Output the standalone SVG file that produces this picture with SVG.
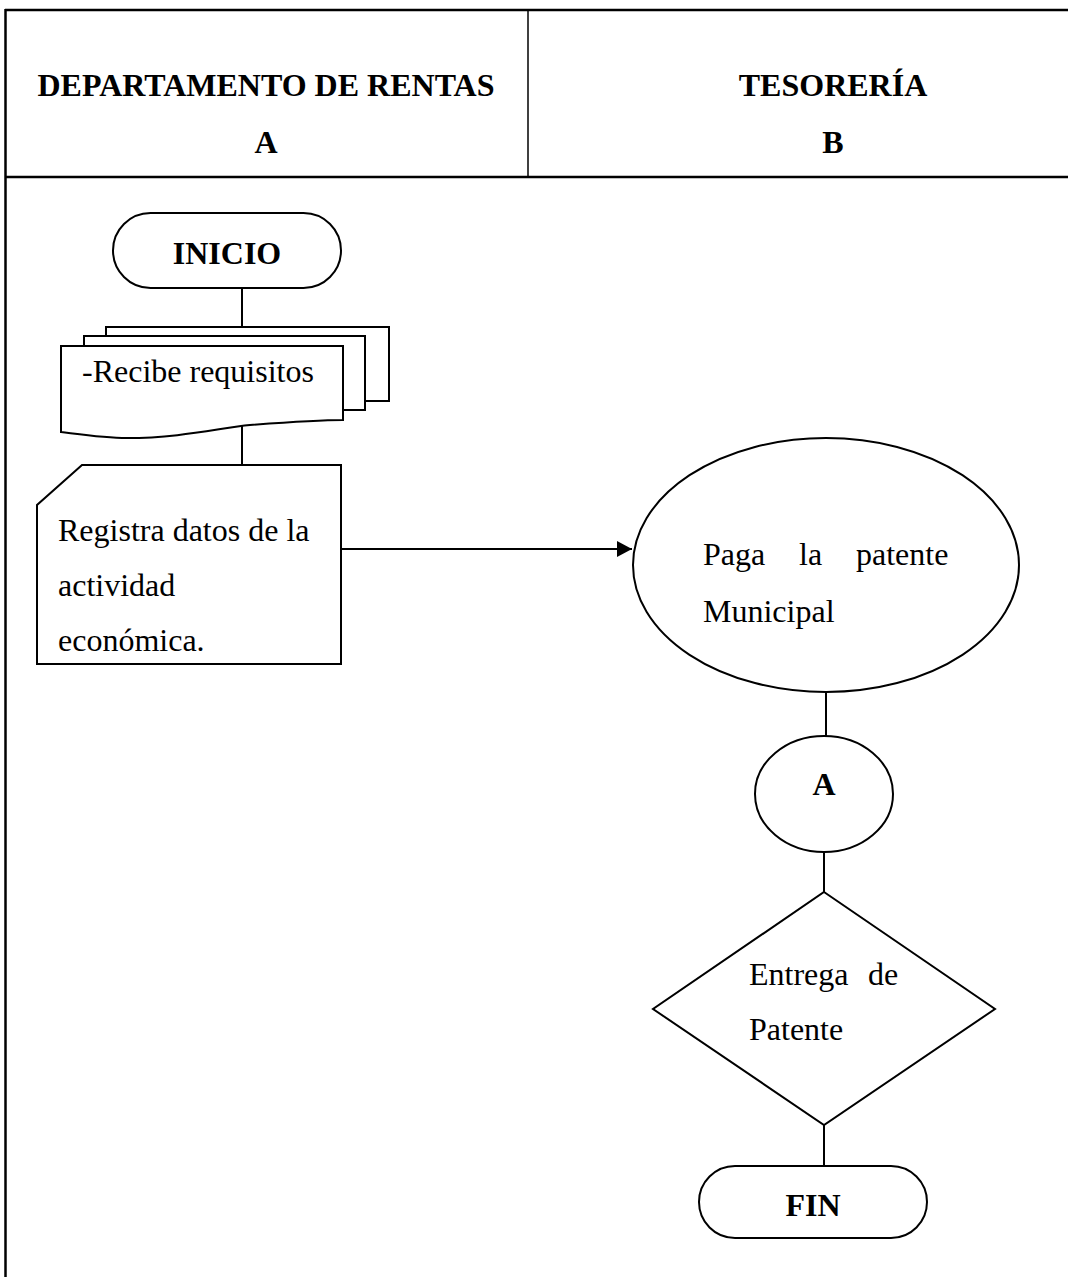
<svg xmlns="http://www.w3.org/2000/svg" width="1068" height="1277" viewBox="0 0 1068 1277">
  <defs>
    <style>
      .frame { fill: none; stroke: #000; stroke-width: 2.5; }
      .shape { fill: #fff; stroke: #000; stroke-width: 2; }
      .link { fill: none; stroke: #000; stroke-width: 2; }
      .head { font-family: "Liberation Serif", "Times New Roman", serif; font-weight: bold; font-size: 32px; fill: #000; }
      .body { font-family: "Liberation Serif", "Times New Roman", serif; font-size: 32px; fill: #000; }
    </style>
    <marker id="arrow" markerWidth="15" markerHeight="16" refX="15" refY="8" orient="auto" markerUnits="userSpaceOnUse">
      <path d="M0,0 L15,8 L0,16 z" fill="#000"/>
    </marker>
  </defs>

  <rect width="1068" height="1277" fill="#fff"/>

  <!-- swimlane table frame -->
  <g id="lanes">
    <line class="frame" x1="5" y1="10" x2="1068" y2="10"/>
    <line class="frame" x1="5" y1="177" x2="1068" y2="177"/>
    <line class="frame" x1="5.5" y1="9" x2="5.5" y2="1277"/>
    <line x1="528" y1="10" x2="528" y2="177" stroke="#000" stroke-width="1.5"/>
    <text class="head" x="266" y="96" text-anchor="middle">DEPARTAMENTO DE RENTAS</text>
    <text class="head" x="266" y="153" text-anchor="middle">A</text>
    <text class="head" x="833" y="96" text-anchor="middle">TESORERÍA</text>
    <text class="head" x="833" y="153" text-anchor="middle">B</text>
  </g>

  <!-- connectors -->
  <g id="connectors">
    <line class="link" x1="242" y1="289" x2="242" y2="327"/>
    <line class="link" x1="242" y1="426" x2="242" y2="465"/>
    <line class="link" x1="341" y1="549" x2="632" y2="549" marker-end="url(#arrow)"/>
    <line class="link" x1="826" y1="692" x2="826" y2="736"/>
    <line class="link" x1="824" y1="852" x2="824" y2="892"/>
    <line class="link" x1="824" y1="1125" x2="824" y2="1166"/>
  </g>

  <g id="inicio">
    <rect class="shape" x="113" y="213" width="228" height="75" rx="37.5"/>
    <text class="head" x="227" y="264" text-anchor="middle">INICIO</text>
  </g>

  <g id="recibe-requisitos">
    <path class="shape" d="M106,336 V327 H389 V401 H366"/>
    <path class="shape" d="M84,346 V336 H365 V410 H343"/>
    <path class="shape" d="M61,346 H343 V420 C320,420 290,422 250,425 C220,428 180,438 127,438 C105,438 85,435 61,432 Z"/>
    <text class="body" x="82" y="382">-Recibe requisitos</text>
  </g>

  <g id="registra-datos">
    <path class="shape" d="M82,465 H341 V664 H37 V505 Z"/>
    <text class="body" x="58" y="541">Registra datos de la</text>
    <text class="body" x="58" y="596">actividad</text>
    <text class="body" x="58" y="651">económica.</text>
  </g>

  <g id="paga-patente">
    <ellipse class="shape" cx="826" cy="565" rx="193" ry="127"/>
    <text class="body" y="565"><tspan x="703">Paga</tspan><tspan x="799">la</tspan><tspan x="856">patente</tspan></text>
    <text class="body" x="703" y="622">Municipal</text>
  </g>

  <g id="conector-a">
    <ellipse class="shape" cx="824" cy="794" rx="69" ry="58"/>
    <text class="head" x="824" y="795" text-anchor="middle" font-size="30">A</text>
  </g>

  <g id="entrega-patente">
    <path class="shape" d="M824,892 L995,1009 L824,1125 L653,1009 Z"/>
    <text class="body" y="985"><tspan x="749">Entrega</tspan><tspan x="868">de</tspan></text>
    <text class="body" x="749" y="1040">Patente</text>
  </g>

  <g id="fin">
    <rect class="shape" x="699" y="1166" width="228" height="72" rx="36"/>
    <text class="head" x="813" y="1216" text-anchor="middle">FIN</text>
  </g>
</svg>
